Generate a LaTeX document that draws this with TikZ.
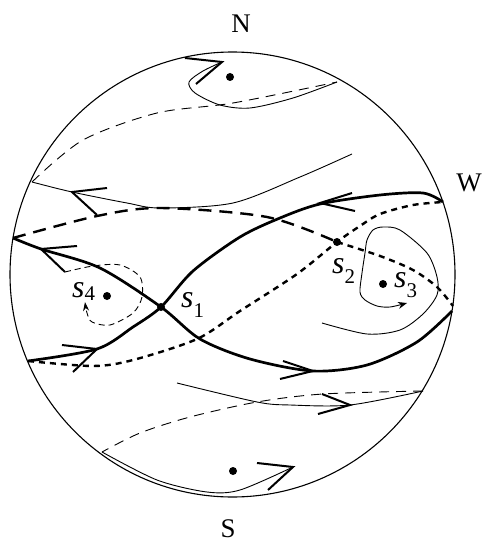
\documentclass[tikz,border=0pt]{standalone}
\usepackage{fontspec}
\setmainfont{Liberation Serif}
\usetikzlibrary{arrows.meta}

\newcommand{\singlabel}[2]{\textit{s}\raisebox{#2}{\fontsize{21}{21}\selectfont #1}}

\begin{document}
\begin{tikzpicture}[
    x=1bp, y=-1bp,
    sphere/.style={line width=1.1bp},
    sep/.style={line width=2.7bp, line join=round},
    backsep/.style={line width=2.4bp, dash pattern=on 13bp off 8bp},
    backsepdot/.style={line width=2.4bp, dash pattern=on 6bp off 5bp},
    flow/.style={line width=0.9bp},
    backflow/.style={line width=0.9bp, dash pattern=on 10bp off 7bp},
    barb/.style={line width=2bp, line join=miter},
    dot/.style={circle, fill=black, inner sep=0pt, minimum size=8bp},
    pole/.style={font=\fontsize{27}{30}\selectfont},
    sing/.style={font=\fontsize{32}{34}\selectfont, anchor=base west, inner sep=0pt}
]
    \useasboundingbox (0,0) rectangle (483,544);

    % sphere and poles
    \coordinate (o) at (232.5,274.5);
    \draw[sphere] (o) circle[radius=222.5bp];
    \node[pole] (north) at (241,24) {N};
    \node[pole] (west) at (469,183) {W};
    \node[pole] (south) at (228,529) {S};

    % singular points
    \node[dot] (s1) at (161,307) {};
    \node[dot] (s2) at (337,242) {};
    \node[dot] (s3) at (383,284) {};
    \node[dot] (s4) at (107,296) {};
    \node[dot] (np) at (230,77) {};
    \node[dot] (sp) at (233,471) {};
    \node[sing] (s1lbl) at (181,307) {\singlabel{1}{-10bp}};
    \node[sing] (s2lbl) at (332,273) {\singlabel{2}{-10bp}};
    \node[sing] (s3lbl) at (394,287) {\singlabel{3}{-10bp}};
    \node[sing] (s4lbl) at (72,297) {\singlabel{4}{-3bp}};

    % separatrices of s1
    \draw[sep] plot[smooth] coordinates {(13,238) (41,249) (100,268) (s1.center) (200,339) (250,359) (313,371) (367,365) (417,342) (452,311)};
    \draw[sep] plot[smooth] coordinates {(28,361) (97,349) (133,327) (s1.center) (193,271) (240,237) (280,218) (320,204) (380,195) (423,193) (443,202)};

    % separatrices of s2 (back side)
    \draw[backsep] plot[smooth] coordinates {(13,238) (97,216) (160,208) (267,217) (s2.center)};
    \draw[backsepdot] plot[smooth] coordinates {(s2.center) (380,256) (413,270) (437,287) (453,306)};
    \draw[backsepdot] plot[smooth] coordinates {(28,361) (93,366) (133,360) (197,339) (240,311) (297,274) (s2.center) (360,226) (380,214) (413,205) (443,202)};

    % upper orbit
    \draw[flow] plot[smooth] coordinates {(352,154) (300,177) (233,203) (160,208) (127,203) (72,192) (32,182)};
    \draw[backflow] plot[smooth] coordinates {(32,182) (83,140) (157,113) (233,103) (337,82)};
    \draw[flow] plot[smooth] coordinates {(337,82) (293,98) (250,108) (220,105) (195,93) (189,82) (203,71) (222,62)};

    % lower orbit
    \draw[flow] plot[smooth] coordinates {(177,383) (257,402) (290,405) (350,405) (423,391)};
    \draw[backflow] plot[smooth] coordinates {(423,391) (323,394) (257,402) (190,417) (140,433) (102,452)};
    \draw[flow] plot[smooth] coordinates {(102,452) (157,480) (207,492) (240,490) (293,467)};

    % around s3 and s4
    \draw[flow, -{Stealth[length=9bp, width=7bp]}] plot[smooth] coordinates {(322,323) (367,334) (400,330) (423,314) (437,295) (437,277) (427,253) (400,230) (383,227) (373,230) (367,240) (365,253) (362,273) (360,292) (365,300) (377,306) (390,307) (407,303)};
    \draw[backflow, dash pattern=on 6bp off 4bp, -{Stealth[length=9bp, width=6bp]}] plot[smooth] coordinates {(65,272) (93,266) (120,265) (140,277) (142,297) (133,313) (110,325) (92,322) (87,313) (85,302)};

    % flow directions
    \draw[barb] (77,246) -- (41,249) -- (65,272);
    \draw[barb] (283,361) -- (313,371) -- (280,379);
    \draw[barb] (352,193) -- (320,203) -- (355,211);
    \draw[barb] (62,345) -- (97,349) -- (73,372);
    \draw[barb] (107,188) -- (72,192) -- (97,215);
    \draw[barb] (185,58) -- (222,62) -- (196,84);
    \draw[barb] (322,394) -- (350,405) -- (318,414);
    \draw[barb] (257,463) -- (293,467) -- (268,490);
\end{tikzpicture}
\end{document}
